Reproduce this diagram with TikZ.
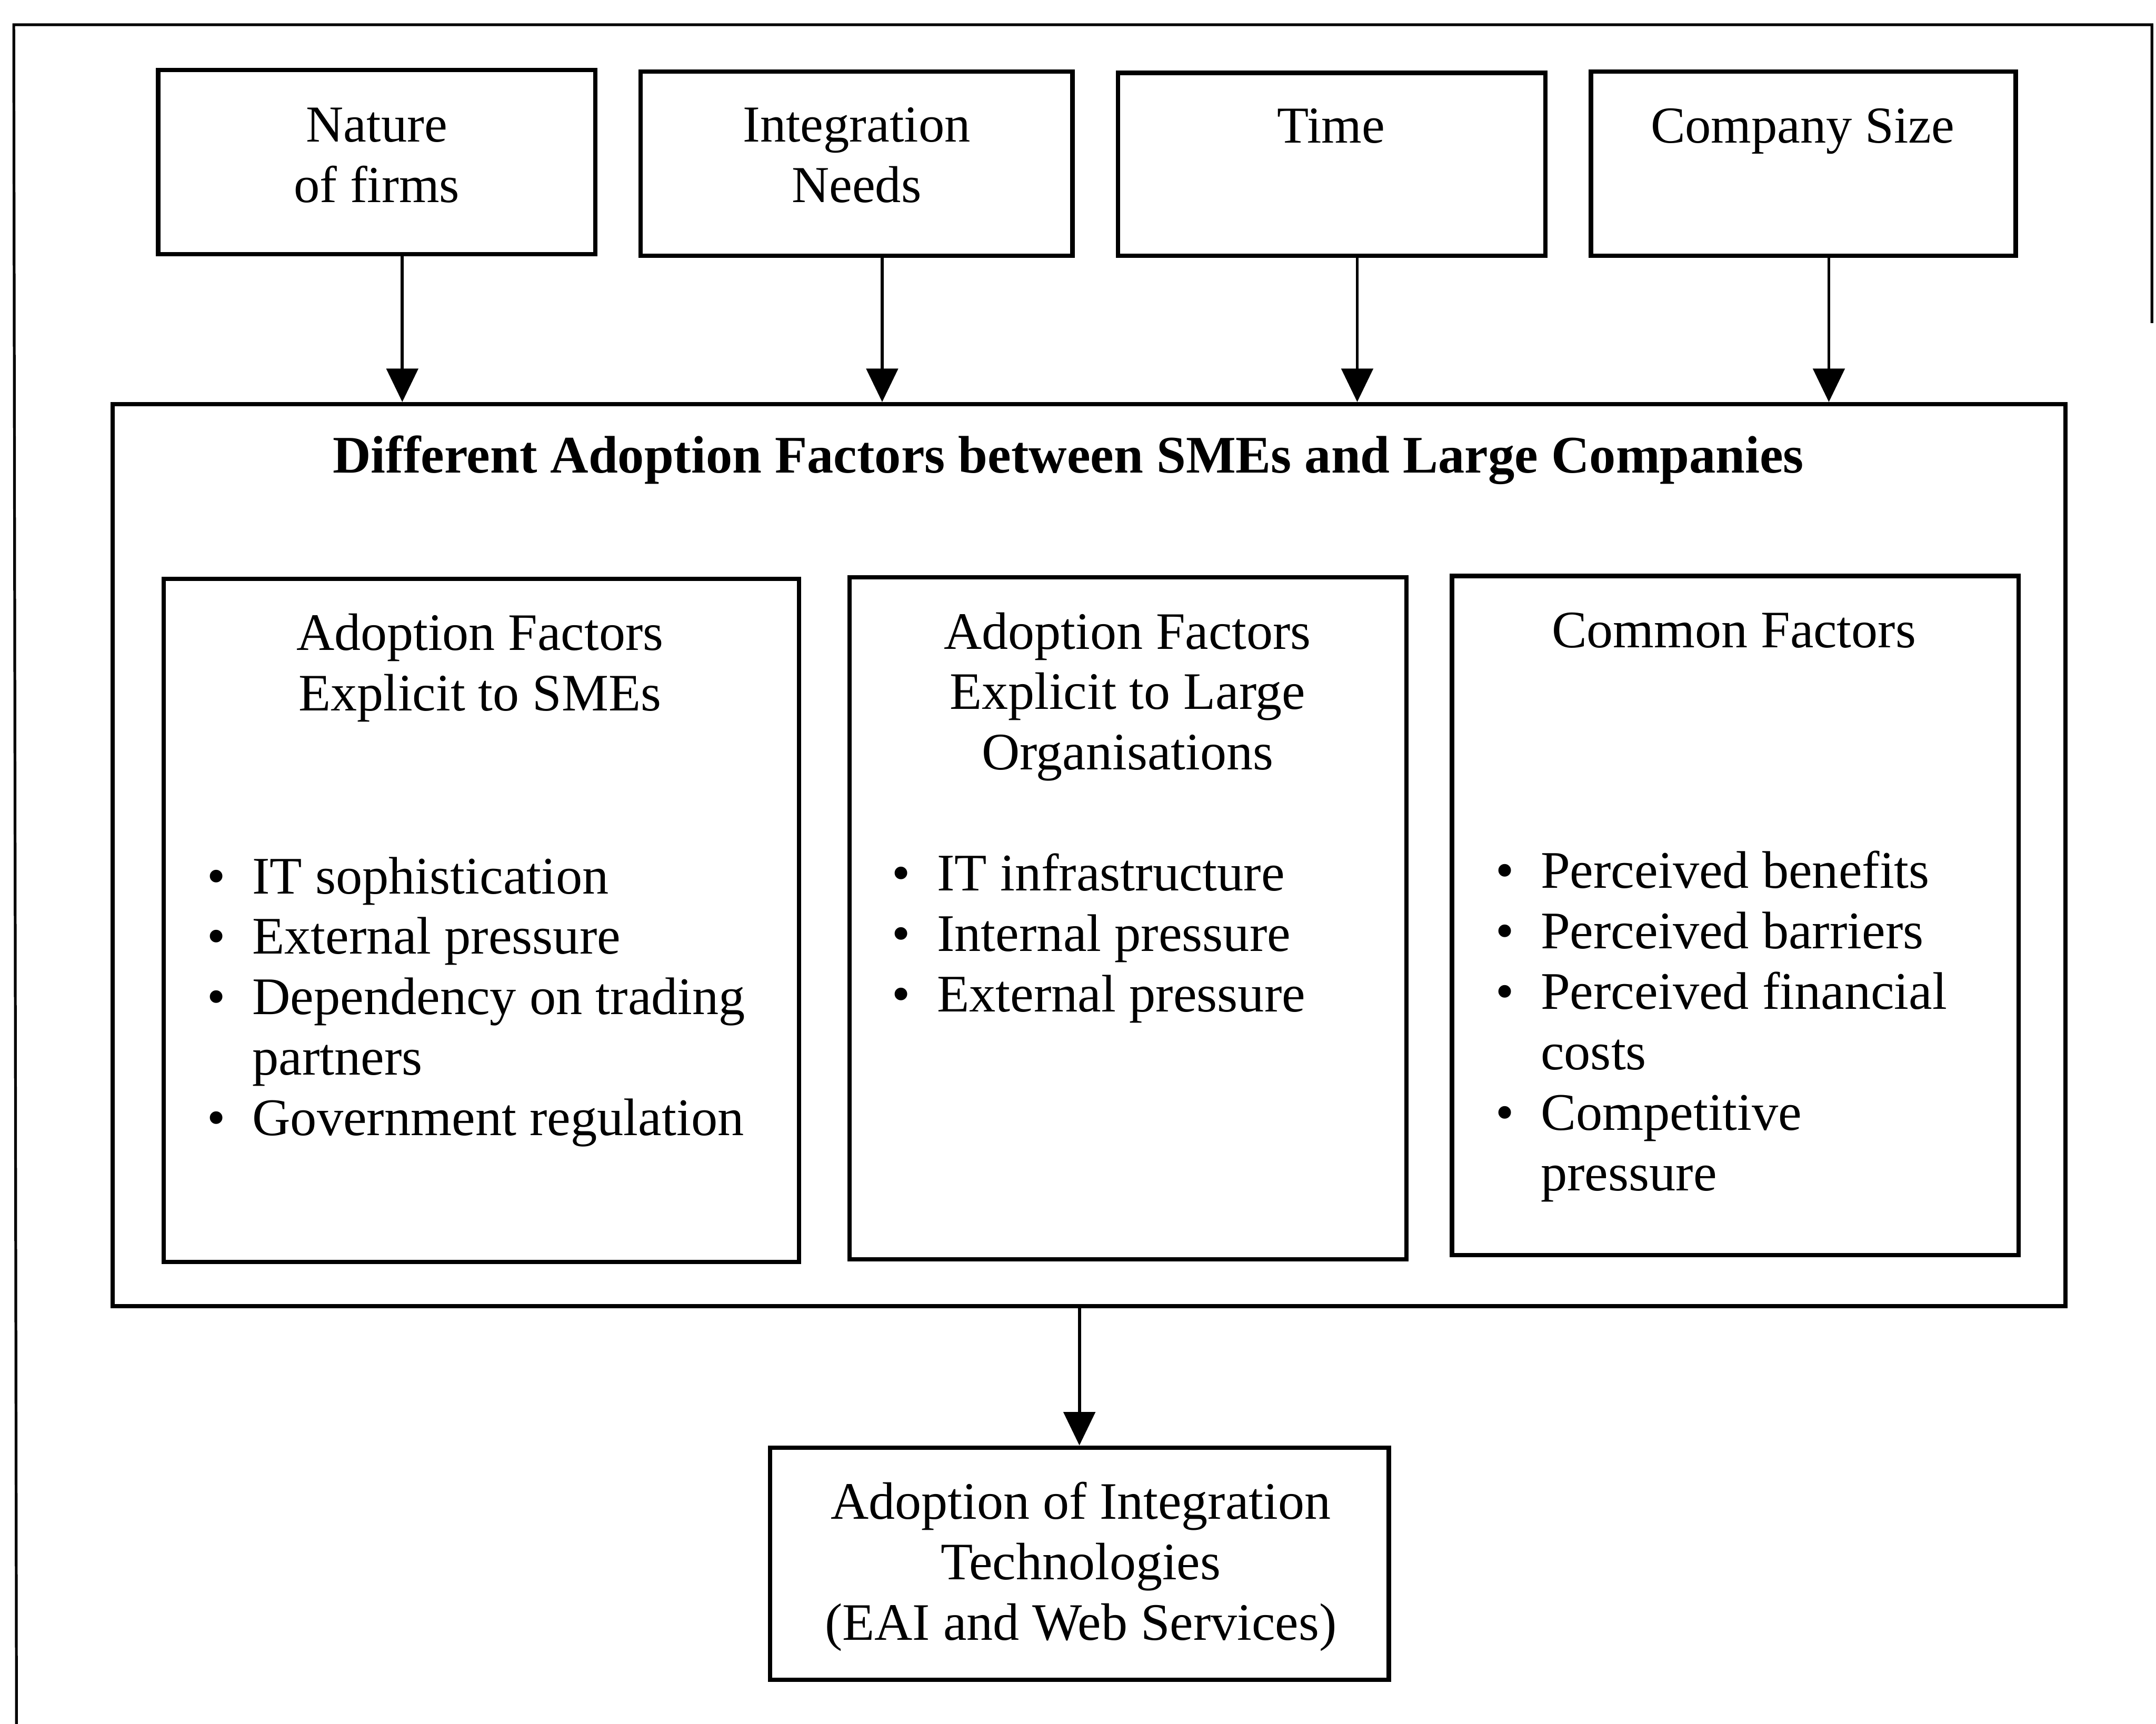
\documentclass[tikz,border=0pt]{standalone}
\usepackage{fontspec}
\setmainfont{Liberation Serif}
\usetikzlibrary{arrows.meta}
\newcommand\bul{\makebox[11.55pt][l]{\textbullet}}
\newcommand\hang{\hspace*{11.55pt}}
\begin{document}
\begin{tikzpicture}[x=0.35pt,y=-0.35pt,
  box/.style={draw, line width=1.1pt, inner sep=0pt},
  lbl/.style={anchor=base, align=center, inner sep=0pt, font=\fontsize{13.2}{15.4}\selectfont},
  lst/.style={anchor=base west, align=left, inner sep=0pt, font=\fontsize{13.45}{15.4}\selectfont},
  arr/.style={-{Triangle[width=8pt,length=8.5pt]}, line width=0.8pt}]

% page area
\useasboundingbox (0,0) rectangle (1568,1254);

% surrounding frame (open at the bottom)
\draw[line width=0.7pt] (12,1254) -- (10,18) -- (1565,18) -- (1565,235);

% influencing variables (anchor=base sits on the last line's baseline)
\node[box, minimum width={318*0.35pt}, minimum height={134*0.35pt}] (n1) at (274,118) {};
\node[box, minimum width={314*0.35pt}, minimum height={134*0.35pt}] (n2) at (623,119) {};
\node[box, minimum width={311*0.35pt}, minimum height={133*0.35pt}] (n3) at (968.5,119.5) {};
\node[box, minimum width={309*0.35pt}, minimum height={134*0.35pt}] (n4) at (1311.5,119) {};
\node[lbl] (t1) at (274,147) {Nature\\of firms};
\node[lbl] (t2) at (623,147) {Integration\\Needs};
\node[lbl] (t3) at (968,104) {Time};
\node[lbl] (t4) at (1311,104) {Company Size};

% adoption factors
\node[box, minimum width={1420*0.35pt}, minimum height={656*0.35pt}] (main) at (792,622) {};
\node[lbl, font=\fontsize{13.45}{15.4}\selectfont\bfseries] (title) at (777,344)
  {Different Adoption Factors between SMEs and Large Companies};

\node[box, minimum width={462*0.35pt}, minimum height={497*0.35pt}] (s1) at (350,669.5) {};
\node[box, minimum width={405*0.35pt}, minimum height={496*0.35pt}] (s2) at (820.5,668) {};
\node[box, minimum width={412*0.35pt}, minimum height={494*0.35pt}] (s3) at (1262,666) {};

\node[lbl, font=\fontsize{13.4}{15.4}\selectfont] (h1) at (349,517) {Adoption Factors\\Explicit to SMEs};
\node[lbl, font=\fontsize{13.4}{15.4}\selectfont] (h2) at (820,560) {Adoption Factors\\Explicit to Large\\Organisations};
\node[lbl, font=\fontsize{13.4}{15.4}\selectfont] (h3) at (1261,471) {Common Factors};

\node[lst] (l1) at (150,826) {\bul IT sophistication\\\bul External pressure\\\bul Dependency on trading\\\hang partners\\\bul Government regulation};
\node[lst] (l2) at (648,736) {\bul IT infrastructure\\\bul Internal pressure\\\bul External pressure};
\node[lst] (l3) at (1087,866) {\bul Perceived benefits\\\bul Perceived barriers\\\bul Perceived financial\\\hang costs\\\bul Competitive\\\hang pressure};

% outcome
\node[box, minimum width={450*0.35pt}, minimum height={169*0.35pt}] (bot) at (785,1137.5) {};
\node[lbl, font=\fontsize{13.4}{15.4}\selectfont] (tb) at (786,1193) {Adoption of Integration\\Technologies\\(EAI and Web Services)};

% connectors
\foreach \b in {n1,n2,n3,n4}
  \draw[arr] ([xshift=6.5pt]\b.south) -- ([xshift=6.5pt]\b.south |- main.north);
\draw[arr] (bot.north |- main.south) -- (bot.north);
\end{tikzpicture}
\end{document}
